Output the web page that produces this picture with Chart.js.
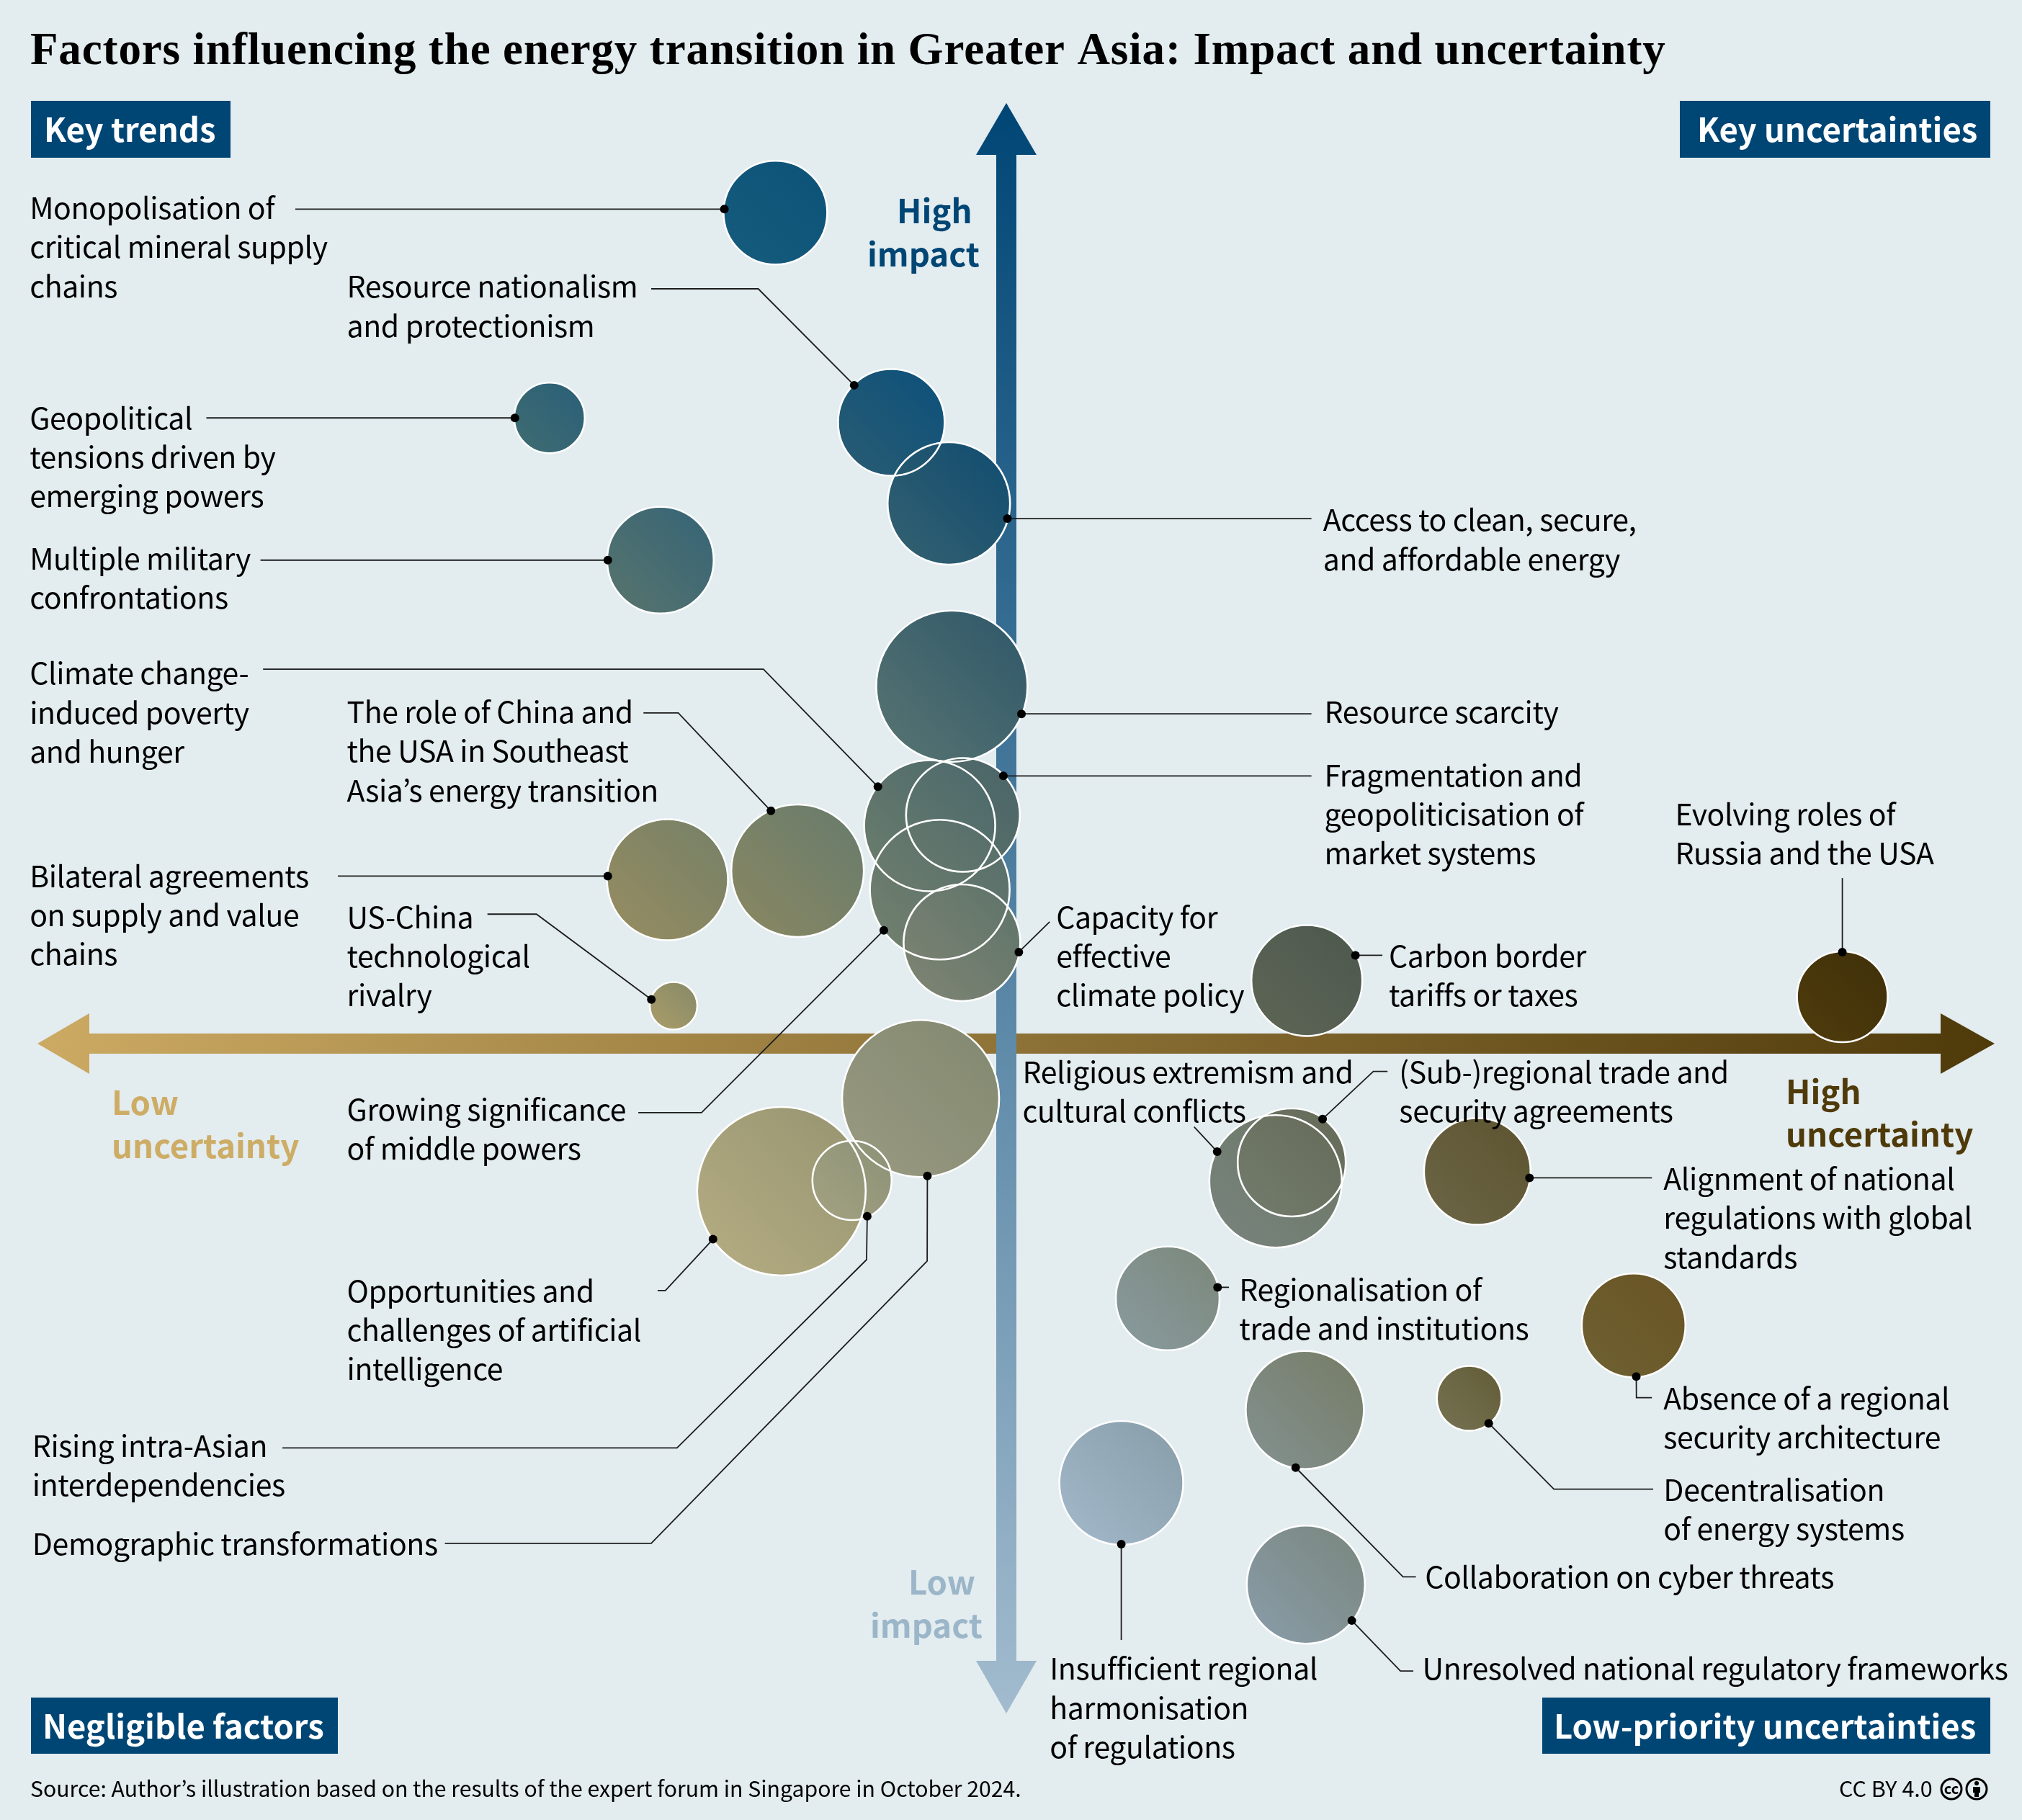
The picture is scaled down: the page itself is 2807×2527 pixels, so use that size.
<!DOCTYPE html>
<html>
<head>
<meta charset="utf-8">
<title>Energy transition factors</title>
<script src="https://cdn.jsdelivr.net/npm/chart.js@4"></script>
<style>
  html, body { margin: 0; padding: 0; background: #e3ecef; }
  canvas { display: block; }
</style>
</head>
<body>
<canvas id="chart" width="2807" height="2527"></canvas>
<script>
// values
const factors = [
    ['Monopolisation of', 'critical mineral supply', 'chains'],
    ['Resource nationalism', 'and protectionism'],
    ['Access to clean, secure,', 'and affordable energy'],
    ['Geopolitical', 'tensions driven by', 'emerging powers'],
    ['Multiple military', 'confrontations'],
    ['Resource scarcity'],
    ['Fragmentation and', 'geopoliticisation of', 'market systems'],
    ['Climate change-', 'induced poverty', 'and hunger'],
    ['Growing significance', 'of middle powers'],
    ['Capacity for', 'effective', 'climate policy'],
    ['The role of China and', 'the USA in Southeast', 'Asia’s energy transition'],
    ['Bilateral agreements', 'on supply and value', 'chains'],
    ['US-China', 'technological', 'rivalry'],
    ['Carbon border', 'tariffs or taxes'],
    ['Evolving roles of', 'Russia and the USA'],
    ['Demographic transformations'],
    ['Opportunities and', 'challenges of artificial', 'intelligence'],
    ['Rising intra-Asian', 'interdependencies'],
    ['Religious extremism and', 'cultural conflicts'],
    ['(Sub-)regional trade and', 'security agreements'],
    ['Alignment of national', 'regulations with global', 'standards'],
    ['Regionalisation of', 'trade and institutions'],
    ['Absence of a regional', 'security architecture'],
    ['Collaboration on cyber threats'],
    ['Decentralisation', 'of energy systems'],
    ['Insufficient regional', 'harmonisation', 'of regulations'],
    ['Unresolved national regulatory frameworks']
];
const uncertainty = [-2.29, -1.14, -0.57, -4.53, -3.43, -0.54, -0.43, -0.76, -0.66, -0.44, -2.07, -3.36, -3.30, 2.98, 8.29, -0.85, -2.23, -1.53, 2.67, 2.83, 4.67, 1.60, 6.22, 2.96, 4.59, 1.14, 2.97];
const impact = [9.23, 6.90, 6.00, 6.95, 5.37, 3.97, 2.54, 2.42, 1.71, 1.12, 1.92, 1.82, 0.42, 0.70, 0.52, -0.61, -1.64, -1.52, -1.53, -1.32, -1.42, -2.83, -3.13, -4.07, -3.94, -4.88, -6.01];
const weight = [7.2, 7.4, 8.5, 4.9, 7.4, 10.5, 7.9, 9.1, 9.7, 8.1, 9.2, 8.4, 3.3, 7.7, 6.3, 10.9, 11.7, 5.5, 9.2, 7.5, 7.4, 7.2, 7.2, 8.2, 4.5, 8.6, 8.2];

// colours of each bubble, upper right to lower left
const colourFrom = ['#0e5479', '#11527a', '#164f70', '#2d6177', '#3a6675', '#355c6b', '#4d6668', '#4f6b6c', '#59706b', '#62766b', '#6c7d6b', '#7a8266', '#8b8c69', '#4f5a4f', '#42320a', '#858b72', '#9a9873', '#8f9478', '#6e7868', '#666d5b', '#5f5633', '#7d8a7f', '#6a5626', '#787f6c', '#655f3b', '#8ba1ad', '#7c8a84'];
const colourTo = ['#135a7c', '#255a73', '#2f5e70', '#3c6a72', '#53726e', '#527070', '#5c7369', '#687b6c', '#6f7e6d', '#7b8272', '#858663', '#928b62', '#a59a68', '#5b6354', '#4d3a0c', '#96977f', '#b1a980', '#a09f80', '#76827a', '#71796a', '#696343', '#87989a', '#6e5f30', '#818e8a', '#736f4e', '#9fb5c6', '#8799a3'];

// layout, in units of the 1568 wide sketch
const S = 2807 / 1568;
const labelPos = [[23,161],[269,222],[1026,403],[23,324],[23,433],[1027,552],[1027,601],[23,522],[269,860],[819,711],[269,552],[23,679],[269,711],[1077,741],[1299,631],[25,1197],[269,1001],[25,1121],[793,831],[1085,831],[1290,914],[961,1000],[1290,1084],[1105,1223],[1290,1155],[814,1294],[1103,1294]];
// null takes the matching coordinate of the dot, so straight leaders stay straight
const leaderPath = [
    [[229,null]],
    [[505,224],[588,224]],
    [[1017,null]],
    [[160,null]],
    [[202,null]],
    [[1017,null]],
    [[1017,null]],
    [[204,519],[592,519]],
    [[495,863],[544,863]],
    [[814,715]],
    [[499,553],[526,553]],
    [[262,null]],
    [[378,709],[416,709]],
    [[1072,null]],
    [[null,681]],
    [[345,1197],[505,1197],[719,978]],
    [[510,1001],[516,1001]],
    [[219,1123],[525,1123],[672,977]],
    [[926,874]],
    [[1076,831],[1065,831]],
    [[1281,null]],
    [[953,null]],
    [[1281,1084],[1269,1084]],
    [[1098,1223],[1088,1223]],
    [[1282,1155],[1205,1155]],
    [[null,1272]],
    [[1096,1296],[1086,1296]]
];
// where the leader touches the bubble, degrees clockwise from east
const leaderAngle = [184, 225, 14.5, 180, 180, 21.7, -44, 217, 144, 9.3, 246, 183.5, 196, -27.5, 270, 85, 145, 67, 207, -54.6, 7, -12.5, 87, 99, 52, 90, 38];

const SANS = '"Noto Sans CJK JP", "Noto Sans", sans-serif';
const SERIF = '"Liberation Serif", serif';
const NAVY = '#004675';

// bubble charts pad the chart area by the biggest bubble, so the axis limits allow for it
const INSET = Math.max(...weight) * 10 + 2.6;
const X_UNIT = 140, Y_UNIT = 125, X0 = 1397, Y0 = 1449;

function bubbleGradient(c) {
    if (c.type !== 'data') return 'transparent';
    const i = c.dataIndex;
    const cx = c.chart.scales.x.getPixelForValue(uncertainty[i]);
    const cy = c.chart.scales.y.getPixelForValue(impact[i]);
    if (!isFinite(cx) || !isFinite(cy)) return colourFrom[i];
    const d = weight[i] * 7;
    const g = c.chart.ctx.createLinearGradient(cx + d, cy - d, cx - d, cy + d);
    g.addColorStop(0, colourFrom[i]);
    g.addColorStop(1, colourTo[i]);
    return g;
}

function polygon(ctx, pts, fill) {
    ctx.beginPath();
    pts.forEach((p, i) => i ? ctx.lineTo(p[0], p[1]) : ctx.moveTo(p[0], p[1]));
    ctx.closePath();
    ctx.fillStyle = fill;
    ctx.fill();
}

function text(ctx, str, x, y, font, colour, align, spacing) {
    ctx.font = font;
    ctx.fillStyle = colour;
    ctx.textAlign = align || 'left';
    ctx.textBaseline = 'alphabetic';
    ctx.letterSpacing = spacing || '0px';
    ctx.fillText(str, x, y);
    ctx.letterSpacing = '0px';
}

// axis arrows go under the bubbles
const arrowsPlugin = {
    id: 'arrows',
    beforeDatasetsDraw(chart) {
        const ctx = chart.ctx;
        const x0 = chart.scales.x.getPixelForValue(0);
        const y0 = chart.scales.y.getPixelForValue(0);

        const h = ctx.createLinearGradient(52, 0, 2769, 0);
        h.addColorStop(0, '#ccaa63');
        h.addColorStop(1, '#4f3a0a');
        polygon(ctx, [[52, y0], [124, y0 - 42], [124, y0 - 14], [2694, y0 - 14], [2694, y0 - 42], [2769, y0], [2694, y0 + 42], [2694, y0 + 14], [124, y0 + 14], [124, y0 + 42]], h);

        const v = ctx.createLinearGradient(0, 143, 0, 2379);
        v.addColorStop(0, '#004675');
        v.addColorStop(1, '#a2bbce');
        polygon(ctx, [[x0, 143], [x0 + 42, 215], [x0 + 14, 215], [x0 + 14, 2306], [x0 + 42, 2306], [x0, 2379], [x0 - 42, 2306], [x0 - 14, 2306], [x0 - 14, 215], [x0 - 42, 215]], v);
    }
};

const annotationPlugin = {
    id: 'annotations',
    afterDatasetsDraw(chart) {
        const ctx = chart.ctx;
        const xs = chart.scales.x;
        const ys = chart.scales.y;

        // leaders with their dots
        ctx.strokeStyle = '#1c1c1c';
        ctx.lineWidth = 1.8;
        factors.forEach((f, i) => {
            const a = leaderAngle[i] * Math.PI / 180;
            const r = weight[i] * 10 - 1;
            const dx = xs.getPixelForValue(uncertainty[i]) + r * Math.cos(a);
            const dy = ys.getPixelForValue(impact[i]) + r * Math.sin(a);
            ctx.beginPath();
            leaderPath[i].forEach((p, k) => {
                const px = p[0] === null ? dx : p[0] * S;
                const py = p[1] === null ? dy : p[1] * S;
                k ? ctx.lineTo(px, py) : ctx.moveTo(px, py);
            });
            ctx.lineTo(dx, dy);
            ctx.stroke();
            ctx.beginPath();
            ctx.arc(dx, dy, 6, 0, Math.PI * 2);
            ctx.fillStyle = '#000';
            ctx.fill();
        });

        // factor labels
        factors.forEach((f, i) => {
            f.forEach((line, k) => {
                text(ctx, line, labelPos[i][0] * S, labelPos[i][1] * S + 16 + k * 54.2, '41px ' + SANS, '#000', 'left', '-0.4px');
            });
        });

        // title
        text(ctx, 'Factors influencing the energy transition in Greater Asia: Impact and uncertainty', 42, 89, 'bold 63px ' + SERIF, '#000', 'left', '0.87px');

        // corner badges
        [
            ['Key trends', 43, 140, 277, 79, 61],
            ['Key uncertainties', 2332, 140, 431, 79, 2356],
            ['Negligible factors', 43, 2357, 426, 78, 59],
            ['Low-priority uncertainties', 2141, 2357, 622, 78, 2157]
        ].forEach(b => {
            ctx.fillStyle = NAVY;
            ctx.fillRect(b[1], b[2], b[3], b[4]);
            text(ctx, b[0], b[5], b[2] + 57, 'bold 45.4px ' + SANS, '#fff');
        });

        // axis end labels
        const axisFont = 'bold 45.5px ' + SANS;
        text(ctx, 'High', 1245, 310, axisFont, NAVY);
        text(ctx, 'impact', 1204, 370, axisFont, NAVY);
        text(ctx, 'Low', 1261, 2214, axisFont, '#9cb6c9');
        text(ctx, 'impact', 1208, 2274, axisFont, '#9cb6c9');
        text(ctx, 'Low', 155, 1548, axisFont, '#cdac65');
        text(ctx, 'uncertainty', 155, 1608, axisFont, '#cdac65');
        text(ctx, 'High', 2479, 1533, axisFont, '#4f3a0a');
        text(ctx, 'uncertainty', 2479, 1592, axisFont, '#4f3a0a');

        // footer
        text(ctx, 'Source: Author’s illustration based on the results of the expert forum in Singapore in October 2024.', 42, 2495, '30.2px ' + SANS, '#000');
        text(ctx, 'CC BY 4.0', 2553, 2495, '30.5px ' + SANS, '#000');
        ctx.strokeStyle = '#000';
        ctx.lineWidth = 3;
        [2709, 2744].forEach(x => {
            ctx.beginPath();
            ctx.arc(x, 2484, 14, 0, Math.PI * 2);
            ctx.stroke();
        });
        text(ctx, 'cc', 2709, 2491, 'bold 20px ' + SANS, '#000', 'center');
        ctx.beginPath();
        ctx.arc(2744, 2476, 3, 0, Math.PI * 2);
        ctx.fillStyle = '#000';
        ctx.fill();
        ctx.fillRect(2739, 2481, 10, 8);
        ctx.fillRect(2741, 2489, 6, 6);
    }
};

const points = uncertainty.map((u, i) => ({ x: u, y: impact[i], r: weight[i] * 10 }));

new Chart(document.getElementById('chart'), {
    type: 'bubble',
    data: {
        datasets: [
            { data: points, order: 2, backgroundColor: bubbleGradient, borderWidth: 0 },
            { data: points, order: 1, backgroundColor: 'transparent', borderColor: '#fff', borderWidth: 2.6 }
        ]
    },
    options: {
        responsive: false,
        animation: false,
        devicePixelRatio: 1,
        layout: { padding: 0 },
        events: [],
        plugins: { legend: { display: false }, tooltip: { enabled: false } },
        scales: {
            x: { type: 'linear', display: false, min: (INSET - X0) / X_UNIT, max: (2807 - INSET - X0) / X_UNIT },
            y: { type: 'linear', display: false, min: (Y0 - 2527 + INSET) / Y_UNIT, max: (Y0 - INSET) / Y_UNIT }
        }
    },
    plugins: [arrowsPlugin, annotationPlugin]
});
</script>
</body>
</html>
